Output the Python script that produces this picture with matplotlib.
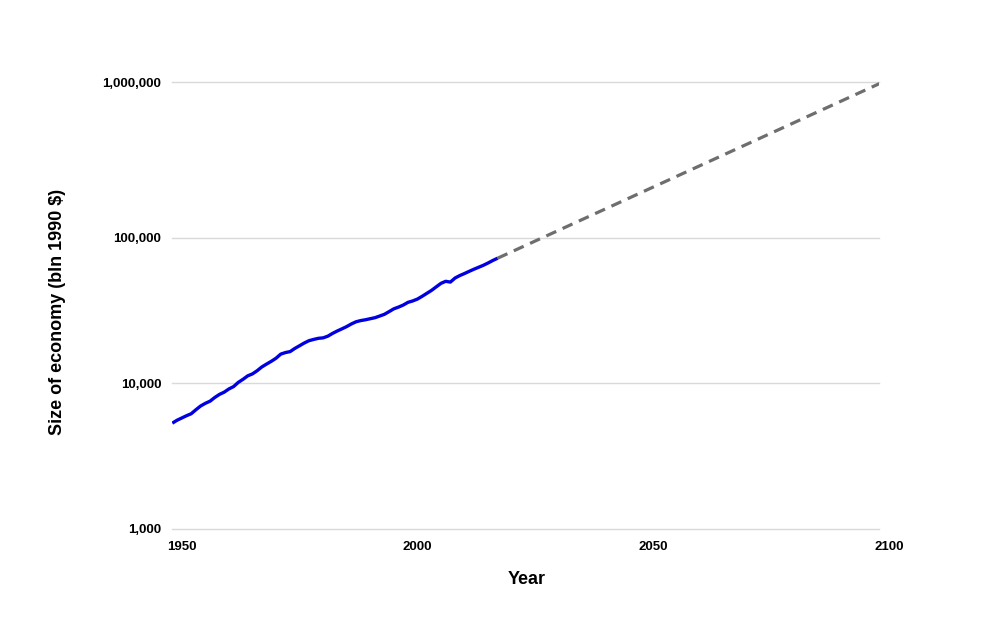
import numpy as np
import matplotlib
matplotlib.use('Agg')
import matplotlib.pyplot as plt
import matplotlib.transforms as mtransforms
from matplotlib.ticker import FuncFormatter

plt.rcParams['font.family'] = ['Liberation Sans', 'DejaVu Sans']

# world economy, bln 1990 $
years = list(range(1950, 2020))
gdp = [5300, 5550, 5750, 5960, 6150, 6550, 6950, 7250, 7500, 7950,
       8350, 8650, 9100, 9450, 10100, 10600, 11200, 11550, 12150, 12900,
       13500, 14100, 14800, 15800, 16200, 16450, 17300, 18050, 18850, 19550,
       19950, 20300, 20450, 21000, 21950, 22800, 23600, 24450, 25500, 26400,
       26900, 27250, 27700, 28150, 28900, 29700, 31000, 32400, 33300, 34400,
       35900, 36700, 37800, 39500, 41400, 43400, 45900, 48500, 50100, 49500,
       52800, 54900, 56700, 58700, 60700, 62600, 64600, 67000, 69700, 72200]

# projection
proj_years = [2019, 2100]
proj_gdp = [72200, 980000]

xticks = [1950, 2000, 2050, 2100]
yticks = [1000, 10000, 100000, 1000000]

# the source chart's decades are not quite evenly spaced
decades = [3, 4, 5, 6]
dec_pos = [0, 145.7, 291.0, 446.4]

def fwd(v):
    v = np.clip(np.asarray(v, dtype=float), 1e-300, None)
    return np.interp(np.log10(v), decades, dec_pos)

def inv(p):
    return 10 ** np.interp(p, dec_pos, decades)

fig = plt.figure(figsize=(10, 6.32), dpi=100)
ax = fig.add_axes([0.1723, 1 - 528.7 / 632, 0.707, 446.4 / 632])

ax.plot(proj_years, proj_gdp, color='#6e6e6e', lw=2.3, dashes=(3.4, 2.2), zorder=2)
ax.plot(years, gdp, color='#0000e0', lw=2.4, zorder=3, solid_capstyle='butt')

ax.set_yscale('function', functions=(fwd, inv))
ax.set_ylim(1000, 1000000)
ax.set_xlim(1950, 2100)
ax.set_yticks(yticks)
ax.set_xticks(xticks)
ax.yaxis.set_major_formatter(FuncFormatter(lambda v, p: f'{int(round(v)):,}'))
ax.yaxis.set_minor_locator(plt.NullLocator())

ax.grid(axis='y', color='#d9d9d9', lw=1)
for gl in ax.get_ygridlines():
    gl.set_clip_on(False)
ax.set_axisbelow(True)
for s in ax.spines.values():
    s.set_visible(False)

ax.tick_params(axis='both', length=0, labelsize=9.5)
ax.tick_params(axis='y', pad=8)
ax.tick_params(axis='x', pad=9)
for lab in ax.get_xticklabels() + ax.get_yticklabels():
    lab.set_fontweight('bold')
off = mtransforms.ScaledTranslation(7 / 72, 0, fig.dpi_scale_trans)
for lab in ax.get_xticklabels():
    lab.set_transform(lab.get_transform() + off)

ax.set_ylabel('Size of economy (bln 1990 $)', fontsize=13, fontweight='bold')
ax.yaxis.label.set_va('center')
ax.yaxis.set_label_coords((58 - 172.3) / 707, (528.7 - 312) / 446.4)
ax.set_xlabel('Year', fontsize=13, fontweight='bold')
ax.xaxis.label.set_va('center')
ax.xaxis.set_label_coords((527 - 172.3) / 707, (528.7 - 580) / 446.4)

fig.savefig('out.png', dpi=100)
